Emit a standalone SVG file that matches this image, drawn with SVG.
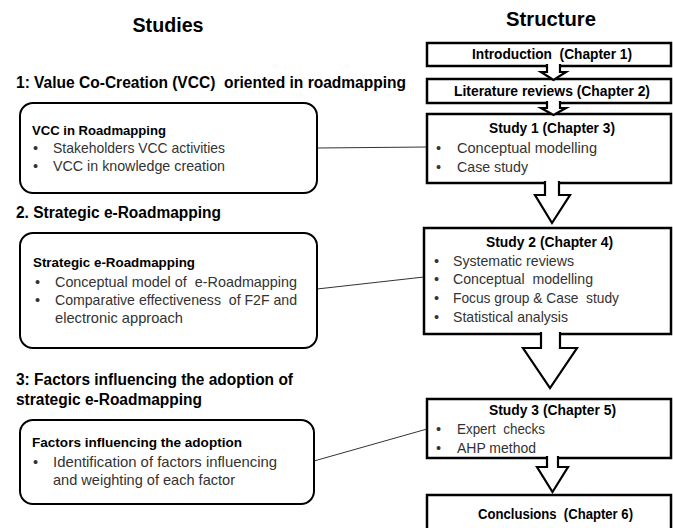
<svg xmlns="http://www.w3.org/2000/svg" width="673" height="528" viewBox="0 0 673 528">
<style>
text{font-family:"Liberation Sans",Arial,sans-serif;}
.h{font-weight:bold;fill:#000;}
.t{font-size:20px;}
.sec{font-size:16px;}
.bt{font-size:13.5px;}
.st{font-size:14px;}
.b{font-size:14.5px;fill:#333;}
.rbox{fill:#fff;stroke:#000;stroke-width:2;}
.sbox{fill:#fff;stroke:#000;stroke-width:2.5;}
.arr{fill:#fff;stroke:#000;stroke-width:2.2;stroke-linejoin:miter;}
.con{stroke:#333;stroke-width:1;fill:none;}
</style>
<rect width="673" height="528" fill="#fff"/>

<text class="h t" x="168" y="32" text-anchor="middle" textLength="71" lengthAdjust="spacingAndGlyphs">Studies</text>
<text class="h t" x="551" y="26" text-anchor="middle" textLength="90" lengthAdjust="spacingAndGlyphs">Structure</text>

<text class="h sec" x="16" y="88" textLength="390" lengthAdjust="spacingAndGlyphs" xml:space="preserve">1: Value Co-Creation (VCC)  oriented in roadmapping</text>
<text class="h sec" x="16" y="218" textLength="205" lengthAdjust="spacingAndGlyphs">2. Strategic e-Roadmapping</text>
<text class="h sec" x="16" y="385" textLength="277" lengthAdjust="spacingAndGlyphs">3: Factors influencing the adoption of</text>
<text class="h sec" x="16" y="405" textLength="186" lengthAdjust="spacingAndGlyphs">strategic e-Roadmapping</text>

<g id="connectors">
<line class="con" x1="317" y1="148" x2="427" y2="147"/>
<line class="con" x1="317" y1="289" x2="424" y2="277"/>
<line class="con" x1="314" y1="461" x2="427" y2="429"/>
</g>

<g id="vcc">
<rect class="rbox" x="20" y="103" width="297" height="90" rx="13"/>
<text class="h bt" x="32" y="135" textLength="134" lengthAdjust="spacingAndGlyphs">VCC in Roadmapping</text>
<text class="b" x="33" y="153">•</text>
<text class="b" x="53" y="153" textLength="172" lengthAdjust="spacingAndGlyphs">Stakeholders VCC activities</text>
<text class="b" x="33" y="171">•</text>
<text class="b" x="53" y="171" textLength="172" lengthAdjust="spacingAndGlyphs">VCC in knowledge creation</text>
</g>

<g id="ero">
<rect class="rbox" x="20" y="233" width="297" height="115" rx="13"/>
<text class="h bt" x="33" y="267" textLength="162" lengthAdjust="spacingAndGlyphs">Strategic e-Roadmapping</text>
<text class="b" x="35" y="287">•</text>
<text class="b" x="55" y="287" textLength="242" lengthAdjust="spacingAndGlyphs" xml:space="preserve">Conceptual model of  e-Roadmapping</text>
<text class="b" x="35" y="305">•</text>
<text class="b" x="55" y="305" textLength="242" lengthAdjust="spacingAndGlyphs" xml:space="preserve">Comparative effectiveness  of F2F and</text>
<text class="b" x="55" y="323" textLength="128" lengthAdjust="spacingAndGlyphs">electronic approach</text>
</g>

<g id="factors">
<rect class="rbox" x="20" y="420" width="294" height="84" rx="13"/>
<text class="h bt" x="32" y="447" textLength="210" lengthAdjust="spacingAndGlyphs">Factors influencing the adoption</text>
<text class="b" x="33" y="467">•</text>
<text class="b" x="53" y="467" textLength="224" lengthAdjust="spacingAndGlyphs">Identification of factors influencing</text>
<text class="b" x="53" y="485" textLength="182" lengthAdjust="spacingAndGlyphs">and weighting of each factor</text>
</g>

<g id="intro">
<rect class="sbox" x="427" y="43" width="244" height="23"/>
<text class="h st" x="472" y="59" textLength="160" lengthAdjust="spacingAndGlyphs" xml:space="preserve">Introduction  (Chapter 1)</text>
</g>

<g id="lit">
<rect class="sbox" x="427" y="79" width="244" height="24"/>
<text class="h st" x="454" y="96" textLength="196" lengthAdjust="spacingAndGlyphs">Literature reviews (Chapter 2)</text>
</g>

<g id="study1">
<rect class="sbox" x="427" y="114" width="244" height="69"/>
<text class="h st" x="489" y="133" textLength="126" lengthAdjust="spacingAndGlyphs">Study 1 (Chapter 3)</text>
<text class="b" x="436" y="153">•</text>
<text class="b" x="457" y="153" textLength="140" lengthAdjust="spacingAndGlyphs">Conceptual modelling</text>
<text class="b" x="436" y="172">•</text>
<text class="b" x="457" y="172" textLength="71" lengthAdjust="spacingAndGlyphs">Case study</text>
</g>

<g id="study2">
<rect class="sbox" x="424" y="228" width="247" height="106"/>
<text class="h st" x="486" y="247" textLength="127" lengthAdjust="spacingAndGlyphs">Study 2 (Chapter 4)</text>
<text class="b" x="434" y="266">•</text>
<text class="b" x="453" y="266" textLength="121" lengthAdjust="spacingAndGlyphs">Systematic reviews</text>
<text class="b" x="434" y="284">•</text>
<text class="b" x="453" y="284" textLength="140" lengthAdjust="spacingAndGlyphs" xml:space="preserve">Conceptual  modelling</text>
<text class="b" x="434" y="303">•</text>
<text class="b" x="453" y="303" textLength="166" lengthAdjust="spacingAndGlyphs" xml:space="preserve">Focus group &amp; Case  study</text>
<text class="b" x="434" y="322">•</text>
<text class="b" x="453" y="322" textLength="115" lengthAdjust="spacingAndGlyphs">Statistical analysis</text>
</g>

<g id="study3">
<rect class="sbox" x="427" y="399" width="244" height="59"/>
<text class="h st" x="489" y="415" textLength="127" lengthAdjust="spacingAndGlyphs">Study 3 (Chapter 5)</text>
<text class="b" x="436" y="434">•</text>
<text class="b" x="457" y="434" textLength="88" lengthAdjust="spacingAndGlyphs" xml:space="preserve">Expert  checks</text>
<text class="b" x="436" y="453">•</text>
<text class="b" x="457" y="453" textLength="79" lengthAdjust="spacingAndGlyphs">AHP method</text>
</g>

<g id="conclusions">
<rect class="sbox" x="427" y="495" width="244" height="45"/>
<text class="h st" x="478" y="519" textLength="155" lengthAdjust="spacingAndGlyphs" xml:space="preserve">Conclusions  (Chapter 6)</text>
</g>

<g id="arrows">
<path class="arr" d="M547,64 V72 H541 L553.5,80 L566,72 H560 V64"/>
<path class="arr" d="M547,101 V108 H541 L553.5,115 L566,108 H560 V101"/>
<path class="arr" d="M545,181 V195 H535 L552,223 L570,195 H559 V181"/>
<path class="arr" d="M541,332 V348 H523 L550,388 L577,348 H560 V332"/>
<path class="arr" d="M547,456 V467 H537 L552.5,492 L568,467 H558 V456"/>
</g>
</svg>
